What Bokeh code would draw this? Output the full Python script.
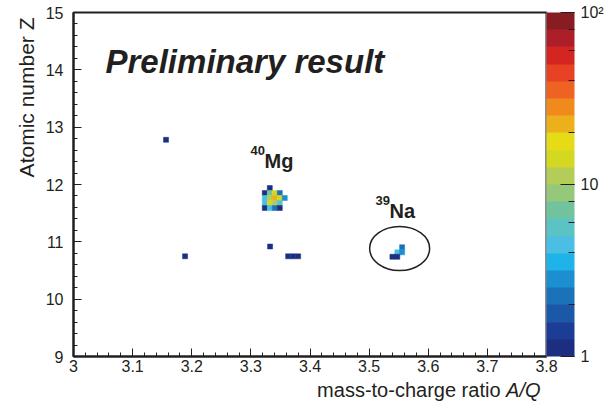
from bokeh.plotting import figure
from bokeh.layouts import column
from bokeh.models import (ColumnDataSource, LogColorMapper, ColorBar, LogTicker,
                          FixedTicker, Label, Title)
from bokeh.transform import transform
from bokeh.embed import file_html
from bokeh.resources import INLINE

# ---- data (bin centres) ----
a_over_q = [3.1565, 3.1887, 3.3325, 3.363, 3.3715, 3.380,
            3.3320,
            3.3235, 3.3320, 3.3404, 3.3489,
            3.3235, 3.3320, 3.3404, 3.3489, 3.3573,
            3.3235, 3.3320, 3.3404, 3.3489,
            3.3235, 3.3320, 3.3404, 3.3489,
            3.5558, 3.5477, 3.5558, 3.5394, 3.5477]
charge_z = [12.78, 10.747, 10.918, 10.747, 10.747, 10.747,
            11.939,
            11.852, 11.852, 11.852, 11.852,
            11.764, 11.764, 11.764, 11.764, 11.764,
            11.677, 11.677, 11.677, 11.677,
            11.590, 11.590, 11.590, 11.590,
            10.906, 10.817, 10.817, 10.739, 10.739]
counts = [1, 1, 1, 1, 1, 1,
          1,
          1, 7, 14, 2,
          4, 11, 22, 14, 3,
          4, 14, 11, 6,
          1, 4, 2, 1,
          2, 4, 3, 1, 1]

bin_dx = 0.0085
bin_dy = 0.087

x_ticks = [3.0, 3.1, 3.2, 3.3, 3.4, 3.5, 3.6, 3.7, 3.8]
y_ticks = [9, 10, 11, 12, 13, 14, 15]

# circle around 39Na
na_ellipse_x, na_ellipse_y = 3.5516, 10.884
na_ellipse_w, na_ellipse_h = 0.1015, 0.767

palette = ["#1c2e80", "#1b3d95", "#1b58a7", "#1a73b8", "#1b8fcf",
           "#1fb4e9", "#4abfe3", "#5bc3c3", "#70c39c", "#95c878",
           "#b3cd58", "#d4d823", "#e5db17", "#ecb01d", "#f18a1c",
           "#ee6322", "#e84224", "#d42520", "#ac1f28", "#871c22"]

FONT = "Liberation Sans"
INK = "#231f20"

src = ColumnDataSource(dict(x=a_over_q, y=charge_z, c=counts))
mapper = LogColorMapper(palette=palette, low=1, high=100)

p = figure(width=616, height=378, x_range=(3.0, 3.8), y_range=(9, 15),
           output_backend="svg", toolbar_location=None,
           min_border_left=73, min_border_right=70,
           min_border_top=12, min_border_bottom=22)
p.grid.visible = False
p.outline_line_color = INK
p.outline_line_width = 2
p.background_fill_color = "white"
p.border_fill_color = "white"

p.rect(x="x", y="y", width=bin_dx, height=bin_dy, source=src,
       fill_color=transform("c", mapper), line_color=transform("c", mapper),
       line_width=0.5)

p.ellipse(x=[na_ellipse_x], y=[na_ellipse_y], width=na_ellipse_w,
          height=na_ellipse_h, fill_color=None, line_color=INK, line_width=1.5)

# axes
xt = FixedTicker(ticks=x_ticks,
                 minor_ticks=[3.0 + 0.02 * i for i in range(41)])
yt = FixedTicker(ticks=y_ticks,
                 minor_ticks=[9 + 0.2 * i for i in range(31)])
p.xaxis.ticker = xt
p.yaxis.ticker = yt
p.xaxis.major_label_overrides = {3: "3"}
for ax in (p.xaxis[0], p.yaxis[0]):
    ax.axis_line_color = INK
    ax.axis_line_width = 2
    ax.major_tick_in = 8
    ax.major_tick_out = 0
    ax.minor_tick_in = 4
    ax.minor_tick_out = 0
    ax.major_tick_line_color = INK
    ax.minor_tick_line_color = INK
    ax.major_label_text_font = FONT
    ax.major_label_text_font_size = "16px"
    ax.major_label_text_color = INK
p.xaxis.major_label_standoff = 3
p.yaxis.major_label_standoff = 10

# colour bar
cb = ColorBar(color_mapper=mapper, ticker=LogTicker(), width=28,
              margin=0, padding=0, location="top_left",
              major_label_overrides={1: "1", 10: "10", 100: "10\u00b2"},
              major_label_text_font=FONT, major_label_text_font_size="16px",
              major_label_text_color=INK, label_standoff=6,
              major_tick_in=14, major_tick_out=0,
              major_tick_line_color=INK,
              minor_tick_in=6, minor_tick_out=0, minor_tick_line_color=INK,
              bar_line_color=None, border_line_color=None,
              background_fill_color="white")
p.add_layout(cb, "right")

# y axis title (top aligned, like the reference)
p.add_layout(Title(text="Atomic number Z", align="right", text_font=FONT,
                   text_font_size="21px", text_font_style="normal",
                   text_color=INK, standoff=10, offset=5), "left")

# texts inside the frame
def lab(fig, text, x, y, size, style="normal", align="left"):
    fig.add_layout(Label(text=text, x=x, y=y, x_units="screen", y_units="screen",
                         text_font=FONT, text_font_size=size, text_font_style=style,
                         text_color=INK, text_align=align,
                         text_baseline="alphabetic"))

lab(p, "Preliminary result", 32, 295, "33px", "bold italic")
lab(p, "40", 177, 206, "13px", "bold")
lab(p, "Mg", 191, 196, "20px", "bold")
lab(p, "39", 302, 156, "13px", "bold")
lab(p, "Na", 316, 146, "20px", "bold")

# x axis title strip, sharing the x range so it lines up with the frame
t = figure(width=616, height=23, x_range=p.x_range, y_range=(0, 1),
           output_backend="svg", toolbar_location=None,
           x_axis_type=None, y_axis_type=None,
           min_border_left=73, min_border_right=70,
           min_border_top=0, min_border_bottom=0)
t.grid.visible = False
t.outline_line_color = None
t.background_fill_color = "white"
t.border_fill_color = "white"
lab(t, "A/Q", 467, 12, "20px", "italic", align="right")
lab(t, "mass-to-charge ratio", 427, 12, "20px", align="right")

layout = column(p, t, spacing=0)
open("out.html", "w").write(file_html(layout, INLINE))
